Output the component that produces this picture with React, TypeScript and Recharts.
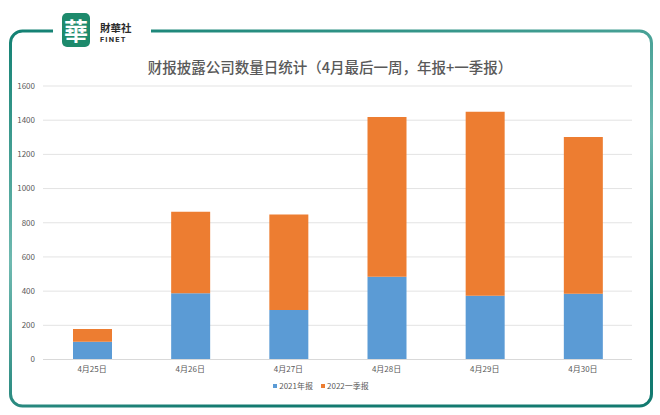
import React from "react";
import {
  Bar,
  BarChart,
  CartesianGrid,
  Legend,
  XAxis,
  YAxis,
} from "recharts";

const DAYS = ["4月25日", "4月26日", "4月27日", "4月28日", "4月29日", "4月30日"];
const ANNUAL_2021 = [104, 387, 289, 484, 373, 384];
const Q1_2022 = [74, 477, 559, 935, 1076, 917];
const Y_TICKS = [0, 200, 400, 600, 800, 1000, 1200, 1400, 1600];

const TITLE = "财报披露公司数量日统计（4月最后一周，年报+一季报）";

const data = DAYS.map((day, i) => ({
  day,
  annual: ANNUAL_2021[i],
  q1: Q1_2022[i],
}));

const FONT = '"Noto Sans CJK SC", "Noto Sans", sans-serif';
const TEXT = "#595959";
const BLUE = "#5b9bd5";
const ORANGE = "#ed7d31";
const AXIS_STYLE = { fill: TEXT, fontSize: 8, fontFamily: FONT };

function Frame() {
  return (
    <svg
      width={660}
      height={415}
      style={{ position: "absolute", left: 0, top: 0, pointerEvents: "none" }}
    >
      <defs>
        <linearGradient id="frameGrad" x1="0" y1="0" x2="0.35" y2="1">
          <stop offset="0%" stopColor="#138173" />
          <stop offset="55%" stopColor="#6fb9b0" />
          <stop offset="100%" stopColor="#137a70" />
        </linearGradient>
      </defs>
      <rect
        x={10.5}
        y={31}
        width={641}
        height={375}
        rx={12}
        ry={12}
        fill="none"
        stroke="url(#frameGrad)"
        strokeWidth={3}
      />
      {/* gap in the top border for the logo */}
      <rect x={53} y={26} width={98} height={10} fill="#ffffff" />
    </svg>
  );
}

function Logo() {
  return (
    <div style={{ position: "absolute", left: 62, top: 13 }}>
      <div
        style={{
          width: 28,
          height: 34,
          background: "#1d8a6c",
          borderRadius: 5,
          color: "#ffffff",
          fontFamily: '"Noto Sans CJK TC", serif',
          fontSize: 24,
          fontWeight: 700,
          lineHeight: "34px",
          textAlign: "center",
        }}
      >
        華
      </div>
      <div
        style={{
          position: "absolute",
          left: 38,
          top: 9,
          fontFamily: '"Noto Sans CJK TC", sans-serif',
          fontSize: 10.5,
          fontWeight: 700,
          color: "#2b2b2b",
          lineHeight: "12px",
          height: 12,
          whiteSpace: "nowrap",
        }}
      >
        財華社
      </div>
      <div
        style={{
          position: "absolute",
          left: 38,
          top: 23,
          fontFamily: "Roboto, sans-serif",
          fontSize: 7.5,
          fontWeight: 700,
          letterSpacing: 1.2,
          color: "#2b2b2b",
          lineHeight: "8px",
          height: 8,
        }}
      >
        FINET
      </div>
    </div>
  );
}

function LegendContent() {
  const items = [
    { label: "2021年报", color: BLUE },
    { label: "2022一季报", color: ORANGE },
  ];
  return (
    <div
      style={{
        display: "flex",
        justifyContent: "center",
        gap: 8,
        fontFamily: FONT,
        fontSize: 8,
        color: TEXT,
        lineHeight: "12px",
      }}
    >
      {items.map((it) => (
        <span key={it.label} style={{ display: "flex", alignItems: "center" }}>
          <span
            style={{
              width: 4,
              height: 4,
              background: it.color,
              marginRight: 2,
              display: "inline-block",
            }}
          />
          {it.label}
        </span>
      ))}
    </div>
  );
}

export default function App() {
  return (
    <div
      style={{
        position: "absolute",
        left: 0,
        top: 0,
        width: 660,
        height: 415,
        background: "#ffffff",
        overflow: "hidden",
      }}
    >
      <BarChart
        width={660}
        height={415}
        data={data}
        margin={{ top: 86, right: 28, left: 10, bottom: 9.5 }}
        barSize={39}
      >
        <CartesianGrid vertical={false} stroke="#e3e3e3" />
        <XAxis
          dataKey="day"
          tick={AXIS_STYLE}
          tickLine={false}
          axisLine={{ stroke: "#d9d9d9" }}
          height={20}
          tickMargin={1}
        />
        <YAxis
          domain={[0, 1600]}
          ticks={Y_TICKS}
          tick={AXIS_STYLE}
          axisLine={false}
          tickLine={false}
          width={33}
          interval={0}
        />
        <Legend
          verticalAlign="bottom"
          height={26}
          content={<LegendContent />}
          wrapperStyle={{ paddingTop: 0 }}
        />
        <Bar
          dataKey="annual"
          name="2021年报"
          stackId="a"
          fill={BLUE}
          isAnimationActive={false}
        />
        <Bar
          dataKey="q1"
          name="2022一季报"
          stackId="a"
          fill={ORANGE}
          isAnimationActive={false}
        />
      </BarChart>
      <div
        style={{
          position: "absolute",
          left: 0,
          top: 58,
          width: 660,
          textAlign: "center",
          fontFamily: FONT,
          fontSize: 14.5,
          fontWeight: 500,
          color: TEXT,
          lineHeight: "18px",
          whiteSpace: "nowrap",
        }}
      >
        {TITLE}
      </div>
      <Frame />
      <Logo />
    </div>
  );
}
